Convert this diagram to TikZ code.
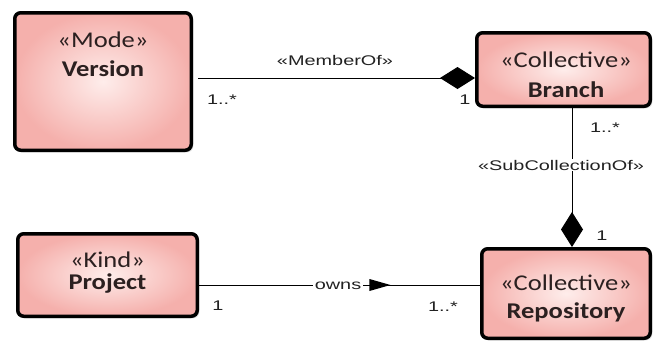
\documentclass[tikz,border=0pt]{standalone}
\usepackage{fontspec}
\setmainfont{Carlito}
\newfontfamily\boxfont[FakeStretch=1.18]{Carlito}
\newfontfamily\linkfont[FakeStretch=1.42]{Liberation Sans}
\usetikzlibrary{arrows.meta,shadows}
\definecolor{pinkdeep}{HTML}{F5B0AC}
\definecolor{pinklight}{HTML}{FEEDEB}
\definecolor{boxtext}{HTML}{2B2020}
\definecolor{linktext}{HTML}{222222}
\tikzset{
  umlbox/.style={draw=black, line width=3.5pt, rounded corners=6pt,
    inner color=pinklight, outer color=pinkdeep,
    drop shadow={shadow xshift=2pt, shadow yshift=-2pt, opacity=0.25}},
  stereo/.style={font=\boxfont\fontsize{22.5}{26}\selectfont, text=boxtext, inner sep=0pt},
  elname/.style={font=\boxfont\bfseries\fontsize{22.5}{26}\selectfont, text=boxtext, inner sep=0pt},
  assoc/.style={line width=1pt, draw=black},
  composite/.style={assoc, -{Diamond[length=35pt,width=22pt]}},
  linklabel/.style={font=\linkfont\fontsize{14}{16}\selectfont, text=linktext, inner sep=1pt},
  mult/.style={font=\linkfont\fontsize{14}{16}\selectfont, text=linktext, inner sep=0pt}
}
\begin{document}
\begin{tikzpicture}[x=1pt,y=-1pt]
  \path[use as bounding box, fill=white] (0,0) rectangle (654,341);

  % classes
  \node[umlbox, minimum width=176.5pt, minimum height=137.5pt] (Version) at (103,81.5) {};
  \node[umlbox, minimum width=173.5pt, minimum height=73.5pt] (Branch) at (563.5,69.5) {};
  \node[umlbox, minimum width=179.5pt, minimum height=82.5pt] (Project) at (107.5,275) {};
  \node[umlbox, minimum width=168.5pt, minimum height=89.5pt] (Repository) at (566,293.5) {};

  \node[stereo] (VersionSt) at (103,40) {«Mode»};
  \node[elname] (VersionNm) at (103,69) {Version};
  \node[stereo] (BranchSt) at (566,60) {«Collective»};
  \node[elname] (BranchNm) at (566,90) {Branch};
  \node[stereo] (ProjectSt) at (107.5,260) {«Kind»};
  \node[elname] (ProjectNm) at (107.5,284) {Project};
  \node[stereo] (RepositorySt) at (566,283) {«Collective»};
  \node[elname] (RepositoryNm) at (566,312) {Repository};

  % routing rails for the connectors
  \coordinate (memberrail) at (0,78);
  \coordinate (subrail) at (572,0);
  \coordinate (ownsrail) at (0,285);

  % «MemberOf»
  \draw[composite, shorten <=5pt] (Version.east |- memberrail) -- (Branch.west |- memberrail);
  \node[linklabel] (MemberOfLbl) at (335,60) {«MemberOf»};
  \node[mult] (MemberFrom) at (222,100) {1..*};
  \node[mult] (MemberTo) at (465,100) {1};

  % «SubCollectionOf»
  \draw[composite] (Branch.south -| subrail) -- (Repository.north -| subrail);
  \node[linklabel, fill=white] (SubLbl) at (561,165) {«SubCollectionOf»};
  \node[mult] (SubFrom) at (605,128) {1..*};
  \node[mult] (SubTo) at (602,236) {1};

  % owns
  \draw[assoc] (Project.east |- ownsrail) -- (Repository.west |- ownsrail);
  \node[linklabel, fill=white, inner xsep=2pt] (OwnsLbl) at (338,286) {owns};
  \fill[black] ([xshift=6pt]OwnsLbl.east |- ownsrail) ++(0,-6) -- ++(0,12) -- ++(21,-6) -- cycle;
  \node[mult] (OwnsFrom) at (218,306) {1};
  \node[mult] (OwnsTo) at (443,307) {1..*};
\end{tikzpicture}
\end{document}
